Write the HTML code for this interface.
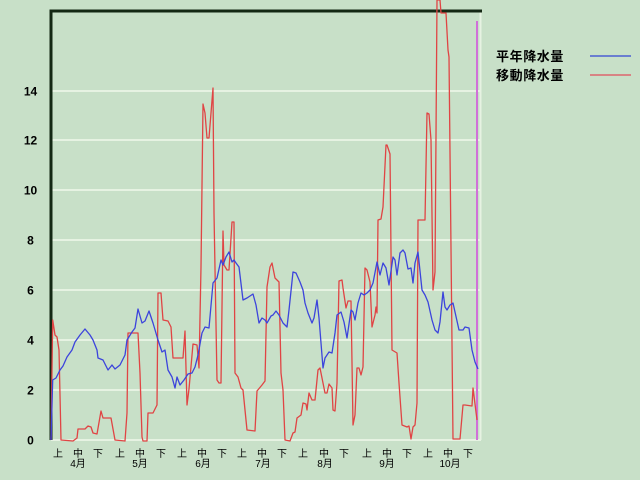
<!DOCTYPE html>
<html><head><meta charset="utf-8">
<style>
html,body{margin:0;padding:0;background:#c8e0c8;}
svg{display:block;}
.yl{font-family:"Liberation Sans",sans-serif;font-weight:bold;font-size:12px;fill:#000;}
.xl{font-family:"Liberation Sans","Noto Sans CJK JP",sans-serif;font-size:10px;fill:#000;}
.lg{font-family:"Liberation Sans","Noto Sans CJK JP",sans-serif;font-weight:bold;font-size:13px;fill:#000;letter-spacing:0.6px;}
</style></head>
<body>
<svg width="640" height="480" viewBox="0 0 640 480" xmlns="http://www.w3.org/2000/svg">
<rect x="0" y="0" width="640" height="480" fill="#c8e0c8"/>
<!-- grid -->
<g stroke="#e6f2e2" stroke-width="2">
<line x1="51" y1="440" x2="481" y2="440"/>
<line x1="51" y1="390" x2="481" y2="390"/>
<line x1="51" y1="340" x2="481" y2="340"/>
<line x1="51" y1="290" x2="481" y2="290"/>
<line x1="51" y1="240" x2="481" y2="240"/>
<line x1="51" y1="190" x2="481" y2="190"/>
<line x1="51" y1="140" x2="481" y2="140"/>
<line x1="51" y1="91" x2="481" y2="91"/>
<line x1="480.5" y1="11" x2="480.5" y2="440"/>
</g>
<!-- border -->
<line x1="49.5" y1="11" x2="482" y2="11" stroke="#142814" stroke-width="3"/>
<line x1="51" y1="10" x2="51" y2="440" stroke="#142814" stroke-width="3"/>
<!-- purple marker -->
<line x1="477" y1="21" x2="477" y2="440" stroke="#d070d8" stroke-width="2"/>
<!-- y labels -->
<g class="yl" text-anchor="middle">
<text x="30.5" y="444.5">0</text>
<text x="30.5" y="394.5">2</text>
<text x="30.5" y="344.5">4</text>
<text x="30.5" y="294.5">6</text>
<text x="30.5" y="244.5">8</text>
<text x="30.5" y="194.5">10</text>
<text x="30.5" y="144.5">12</text>
<text x="30.5" y="95.5">14</text>
</g>
<!-- x labels -->
<g class="xl" text-anchor="middle">
<text x="58" y="457">上</text><text x="78" y="457">中</text><text x="98" y="457">下</text>
<text x="120" y="457">上</text><text x="140" y="457">中</text><text x="161" y="457">下</text>
<text x="182" y="457">上</text><text x="202" y="457">中</text><text x="222" y="457">下</text>
<text x="242" y="457">上</text><text x="262" y="457">中</text><text x="282" y="457">下</text>
<text x="303" y="457">上</text><text x="324" y="457">中</text><text x="344" y="457">下</text>
<text x="367" y="457">上</text><text x="387" y="457">中</text><text x="407" y="457">下</text>
<text x="428" y="457">上</text><text x="448" y="457">中</text><text x="468" y="457">下</text>
<text x="78" y="467">4月</text>
<text x="140" y="467">5月</text>
<text x="203" y="467">6月</text>
<text x="263" y="467">7月</text>
<text x="325" y="467">8月</text>
<text x="387" y="467">9月</text>
<text x="450" y="467">10月</text>
</g>
<!-- red series -->
<polyline fill="none" stroke="#e04444" stroke-width="1.3" stroke-linejoin="round" points="51,440 52.7,320 55,335 57,337 59,350 61,440 73,441 77,438 78,429 85,429 88,426 91,427 93,433 97,434 101,411 103,418 111,418 115,440 125,441 127,413 128,333 138,333 140,373 142,437 143,441 147,441 148,413 153,413 157,405 158,293 161,293 163,320 168,321 171,327 173,358 183,358 185,331 187,405 189,389 193,344 197,345 199,368 201,267 203,104 205,113 207,138 209,138 213,88 214,213 217,380 219,383 221,383 223,231 224,265 227,270 229,270 232,222 234,222 235,373 238,377 241,388 243,390 247,430 255,431 257,391 262,385 265,381 267,287 270,267 272,263 275,278 279,282 281,373 283,390 285,440 290,441 293,433 295,432 297,418 301,415 303,403 306,404 307,410 309,393 312,400 315,400 318,370 320,368 325,393 327,393 329,384 332,388 333,410 335,411 337,383 339,281 342,280 343,288 346,308 348,301 351,301 353,425 355,415 357,368 359,368 361,375 363,367 365,268 367,270 370,282 372,327 375,315 376,307 377,313 378,220 381,219 383,207 386,145 387,145 390,154 392,350 397,353 399,383 402,425 407,427 409,426 411,439 413,427 415,425 417,403 418,220 425,220 427,113 429,114 431,140 433,290 435,272 437,0 440,0 441,13 446,13 448,50 449,57 453,439 460,439 463,405 465,405 472,406 473,388 477,420"/>
<!-- blue series -->
<polyline fill="none" stroke="#3c44dc" stroke-width="1.3" stroke-linejoin="round" points="51,440 52.7,380 56,378 60,370 63,366 67,357 72,350 75,342 80,335 85,329 90,335 93,340 97,350 98,358 103,360 108,370 112,365 115,369 120,365 125,355 127,340 132,332 135,328 138,309 142,323 145,321 149,311 153,323 158,340 162,352 165,350 168,370 172,377 175,388 177,377 180,385 184,380 188,374 192,373 195,367 198,355 202,333 205,327 209,328 213,283 217,278 221,260 223,265 226,257 229,252 232,262 234,260 236,263 239,267 243,300 247,298 250,296 253,294 256,305 259,323 262,318 265,320 267,323 271,316 273,315 276,311 279,315 283,323 287,327 289,310 293,272 296,273 300,282 303,290 305,303 308,313 312,323 314,318 317,300 319,318 323,368 325,358 329,352 332,353 335,333 337,315 341,312 344,322 347,338 351,310 353,312 355,320 358,303 361,293 364,295 367,293 370,290 373,283 377,262 380,275 383,263 386,268 389,285 393,257 395,260 397,275 400,253 403,250 405,253 408,269 411,268 413,283 415,263 418,252 422,290 425,295 428,302 432,320 435,330 438,333 440,322 443,292 445,307 447,310 450,305 453,303 455,312 459,330 463,330 465,327 469,328 472,350 475,362 478,369"/>
<!-- legend -->
<text class="lg" x="496" y="61">平年降水量</text>
<text class="lg" x="496" y="80">移動降水量</text>
<line x1="590" y1="56" x2="631" y2="56" stroke="#6a7ed0" stroke-width="2"/>
<line x1="590" y1="75" x2="631" y2="75" stroke="#d88484" stroke-width="2"/>
</svg>
</body></html>
